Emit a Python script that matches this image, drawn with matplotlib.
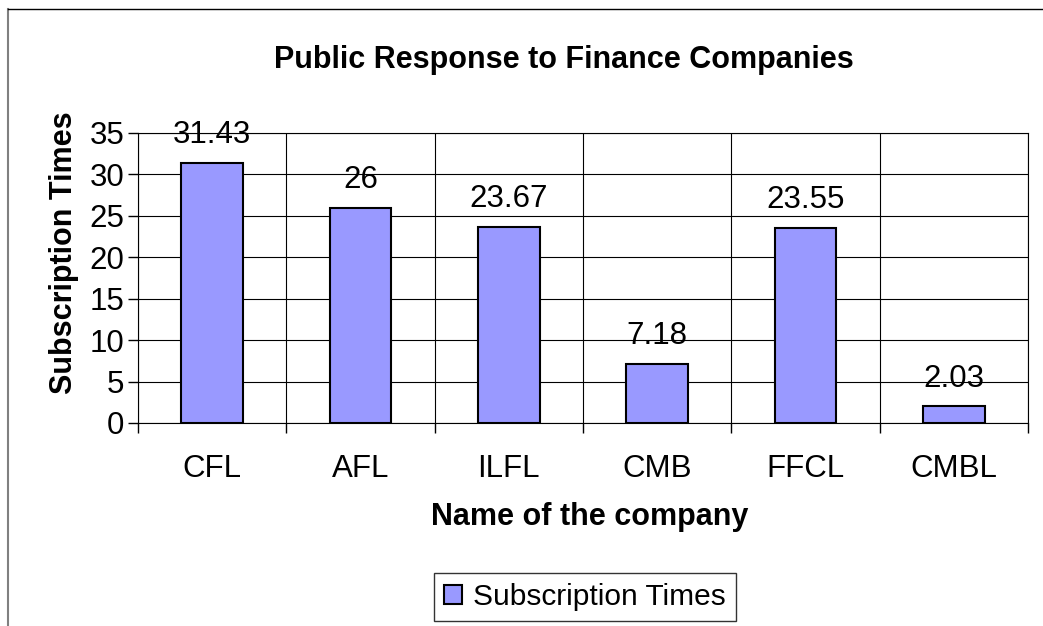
import matplotlib
matplotlib.use("Agg")
import matplotlib.pyplot as plt
import numpy as np
from matplotlib.lines import Line2D
from matplotlib.patches import Patch

companies = ["CFL", "AFL", "ILFL", "CMB", "FFCL", "CMBL"]
subscription_times = [31.43, 26, 23.67, 7.18, 23.55, 2.03]
value_labels = ["31.43", "26", "23.67", "7.18", "23.55", "2.03"]
y_ticks = [0, 5, 10, 15, 20, 25, 30, 35]

plt.rcParams["font.family"] = ["Liberation Sans", "DejaVu Sans"]

W, H = 1043, 626
fig = plt.figure(figsize=(W / 100, H / 100), dpi=100, facecolor="white")

ax = fig.add_axes([138 / W, 1 - 423 / H, (1028 - 138) / W, (423 - 133) / H])

x = np.arange(len(companies))
bar_color = "#9999FF"
ax.bar(x, subscription_times, width=0.415, color=bar_color,
       edgecolor="black", linewidth=1.5, zorder=3)

for xi, v, lab in zip(x, subscription_times, value_labels):
    ax.annotate(lab, (xi, v), xytext=(0, 14), textcoords="offset points",
                ha="center", va="baseline", fontsize=22.5, zorder=4)

ax.set_xlim(-0.5, len(companies) - 0.5)
ax.set_ylim(0, 35)
ax.set_yticks(y_ticks)
ax.set_xticks(x)
ax.set_xticklabels(companies, fontsize=22.5)
ax.set_xticks(np.arange(len(companies) + 1) - 0.5, minor=True)
ax.tick_params(axis="x", which="major", length=0, pad=22)
ax.tick_params(axis="x", which="minor", length=7, width=1, direction="out")
ax.tick_params(axis="y", labelsize=22.5, length=7, width=1, direction="out", pad=3)

ax.grid(True, axis="y", color="black", linewidth=0.8, zorder=0)
ax.grid(True, axis="x", which="minor", color="black", linewidth=0.8, zorder=0)
for sp in ax.spines.values():
    sp.set_color("black")
    sp.set_linewidth(0.8)

fig.text(564 / W, 1 - 68 / H, "Public Response to Finance Companies",
         ha="center", va="baseline", fontsize=22, fontweight="bold")
fig.text(64 / W, 1 - 253 / H, "Subscription Times", rotation=90,
         ha="center", va="center", fontsize=22, fontweight="bold")
fig.text(590 / W, 1 - 525 / H, "Name of the company",
         ha="center", va="baseline", fontsize=22, fontweight="bold")

handle = Patch(facecolor=bar_color, edgecolor="black", linewidth=1.5)
leg = fig.legend([handle], ["Subscription Times"], loc="center",
                 bbox_to_anchor=(585 / W, 1 - 597 / H), fontsize=21.5,
                 frameon=True, fancybox=False, edgecolor="black",
                 handlelength=0.6, handleheight=0.6, handletextpad=0.35,
                 borderpad=0.35, borderaxespad=0)
leg.get_frame().set_linewidth(1)

# outer chart border (cropped)
fig.add_artist(Line2D([8 / W, 8 / W], [0, 1 - 9 / H], color="#808080", linewidth=1.5))
fig.add_artist(Line2D([8 / W, 1], [1 - 9 / H, 1 - 9 / H], color="black", linewidth=1))

fig.savefig("out.png", dpi=100, facecolor="white")
